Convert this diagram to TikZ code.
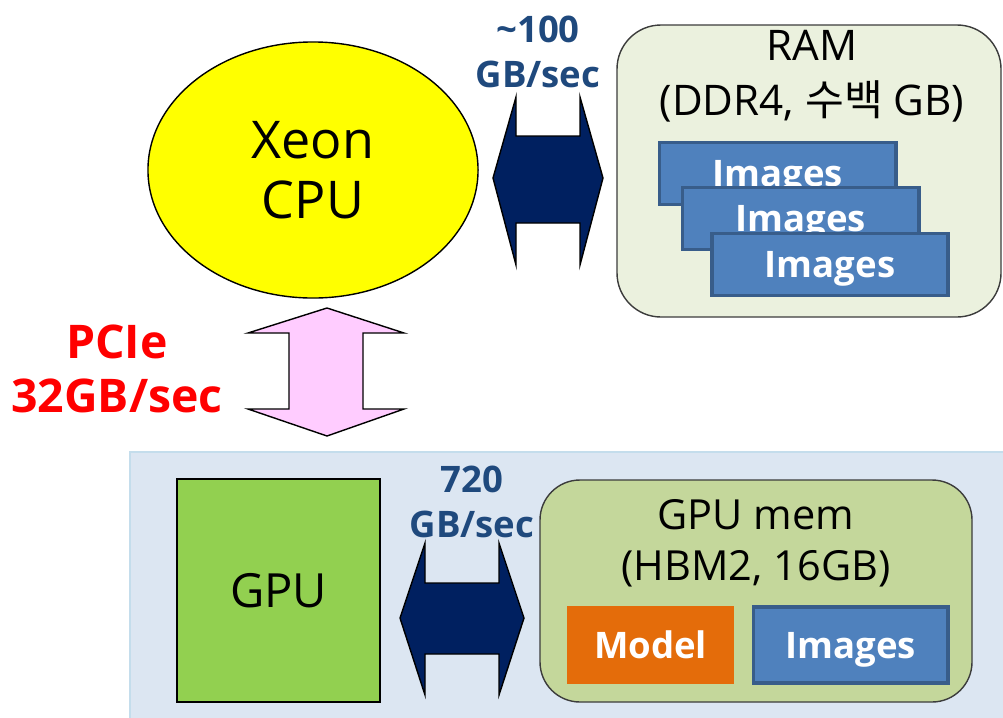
\documentclass[tikz,border=0pt]{standalone}
\usepackage{fontspec}
\setmainfont{Open Sans}
\newfontfamily\kr{Noto Sans CJK KR}
\usepackage{tikz}
\usetikzlibrary{positioning,shapes.geometric}
\definecolor{cpuyellow}{RGB}{255,255,0}
\definecolor{ramgreen}{RGB}{235,241,222}
\definecolor{memgreen}{RGB}{196,215,155}
\definecolor{gpugreen}{RGB}{146,208,80}
\definecolor{imgblue}{RGB}{79,129,189}
\definecolor{imgedge}{RGB}{56,93,138}
\definecolor{modelorange}{RGB}{228,108,10}
\definecolor{linknavy}{RGB}{0,32,96}
\definecolor{labelblue}{RGB}{31,73,125}
\definecolor{pciepink}{RGB}{255,204,255}
\definecolor{panelblue}{RGB}{220,230,242}
\definecolor{paneledge}{RGB}{196,221,236}
\definecolor{memedge}{RGB}{60,60,60}

\tikzset{
  imgbox/.style={draw=imgedge,line width=2.8pt,fill=imgblue,text=white,font=\fontsize{26}{28}\selectfont\bfseries,
    minimum width=5.9cm,minimum height=1.55cm,inner sep=0pt,text depth=0pt},
  bwlabel/.style={text=labelblue,font=\fontsize{26}{32}\selectfont\bfseries,align=center},
  bignote/.style={align=center},
  linkarrow/.style={draw=black,line width=1pt,fill=linknavy,line join=miter}
}

\begin{document}
\begin{tikzpicture}[x=0.025cm,y=-0.025cm]
\useasboundingbox (0,0) rectangle (1003,717);

% GPU side panel
\draw[paneledge,fill=panelblue,line width=1pt] (130,452) rectangle (1010,725);

% host memory
\draw[memedge,fill=ramgreen,line width=1pt,rounded corners=1.1cm] (617,25) rectangle (1001,317);
\node[bignote,font=\fontsize{30}{39}\selectfont] (ramtxt) at (812,76) {RAM\\(DDR4, {\kr 수백} GB)};
\foreach \cx/\cy/\k in {777.5/173.5/1, 800.5/218.5/2, 830/264.5/3}{
  \node[imgbox] (img\k) at (\cx,\cy) {Images};
}

% CPU
\node[draw=black,line width=1pt,fill=cpuyellow,ellipse,minimum width=8.25cm,minimum height=6.4cm,
  font=\fontsize{37}{43}\selectfont,align=center] (cpu) at (313,170) {Xeon\\CPU};

% CPU <-> RAM
\draw[linkarrow] (493,178) -- (516,97) -- (516,136) -- (580,136) -- (580,97) -- (603,178)
  -- (580,265) -- (580,223) -- (516,223) -- (516,265) -- cycle;
\node[bwlabel] (rambw) at (538,52) {\textasciitilde100\\GB/sec};

% CPU <-> GPU
\draw[draw=black,line width=1pt,fill=pciepink] (327,308) -- (404,333) -- (363,333) -- (363,409)
  -- (404,409) -- (327,436) -- (248,409) -- (289,409) -- (289,333) -- (248,333) -- cycle;
\node[text=red,font=\fontsize{33}{38.5}\selectfont\bfseries,align=center] (pcie) at (117,369) {PCIe\\32GB/sec};

% GPU
\node[draw=black,line width=0.8pt,fill=gpugreen,minimum width=5.075cm,minimum height=5.575cm,
  font=\fontsize{33.5}{38}\selectfont] (gpu) at (278.5,590.5) {GPU};

% GPU <-> GPU mem
\draw[linkarrow] (400,618) -- (425,543) -- (425,583) -- (499,583) -- (499,543) -- (524,618)
  -- (499,695) -- (499,654) -- (425,654) -- (425,695) -- cycle;
\node[bwlabel] (gpubw) at (472,502) {720\\GB/sec};

% GPU memory
\draw[memedge,fill=memgreen,line width=1pt,rounded corners=1cm] (540,480) rectangle (972,702);
\node[bignote,font=\fontsize{29.5}{36.3}\selectfont] (memtxt) at (756,543) {GPU mem\\(HBM2, 16GB)};
\node[fill=modelorange,text=white,font=\fontsize{26}{28}\selectfont\bfseries,text depth=0pt,
  minimum width=4.175cm,minimum height=1.95cm,inner sep=0pt] (model) at (650.5,645) {Model};
\node[imgbox,minimum width=4.85cm,minimum height=1.88cm] (gpuimg) at (850.5,645) {Images};
\end{tikzpicture}
\end{document}
